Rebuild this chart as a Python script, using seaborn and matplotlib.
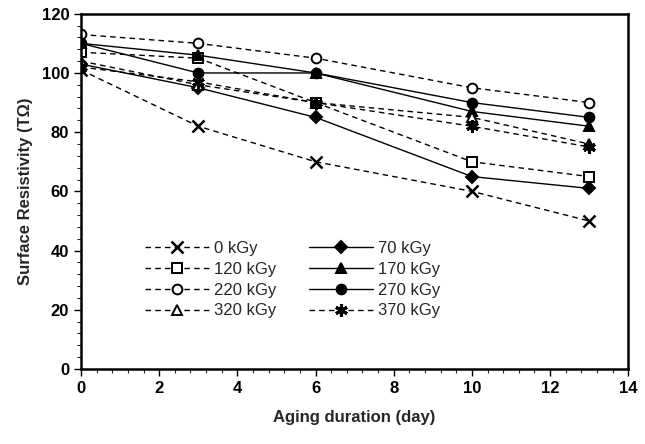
import pandas as pd
import seaborn as sns
import matplotlib.pyplot as plt
from matplotlib.ticker import MultipleLocator

days = [0, 3, 6, 10, 13]
doses = ['0 kGy', '70 kGy', '120 kGy', '170 kGy', '220 kGy', '270 kGy', '320 kGy', '370 kGy']
r_0 = [101, 82, 70, 60, 50]
r_70 = [103, 95, 85, 65, 61]
r_120 = [107, 105, 90, 70, 65]
r_170 = [110, 106, 100, 87, 82]
r_220 = [113, 110, 105, 95, 90]
r_270 = [110, 100, 100, 90, 85]
r_320 = [104, 96, 90, 85, 76]
r_370 = [102, 97, 90, 82, 75]
values = [r_0, r_70, r_120, r_170, r_220, r_270, r_320, r_370]

rows = []
for d, v in zip(doses, values):
    for t, r in zip(days, v):
        rows.append({'day': t, 'dose': d, 'R': r})
df = pd.DataFrame(rows)

# marker, filled, dashed
styles = {
    '0 kGy': ('x', True, True),
    '70 kGy': ('D', True, False),
    '120 kGy': ('s', False, True),
    '170 kGy': ('^', True, False),
    '220 kGy': ('o', False, True),
    '270 kGy': ('o', True, False),
    '320 kGy': ('^', False, True),
    '370 kGy': ((6, 2, 0), True, True),
}

sns.set_style('ticks')
plt.rcParams['font.family'] = ['Liberation Sans', 'DejaVu Sans']

fig = plt.figure(figsize=(6.45, 4.44), dpi=100)
ax = fig.add_axes([0.1256, 0.169, 0.8484, 0.8])

for d in doses:
    m, filled, dashed = styles[d]
    sub = df[df['dose'] == d]
    ms = 7
    mew = 1.4
    if m == 'D':
        ms = 6
    if m == 'x':
        ms, mew = 8, 1.8
    if m == (6, 2, 0):
        ms, mew = 9, 2.2
    sns.lineplot(data=sub, x='day', y='R', ax=ax, color='black', linewidth=1,
                 linestyle=(0, (4, 3)) if dashed else '-',
                 marker=m, markersize=ms, markeredgewidth=mew,
                 markerfacecolor='black' if filled else 'white',
                 markeredgecolor='black', label=d)

ax.set_xlim(0, 14)
ax.set_ylim(0, 120)
ax.xaxis.set_major_locator(MultipleLocator(2))
ax.xaxis.set_minor_locator(MultipleLocator(0.4))
ax.yaxis.set_major_locator(MultipleLocator(20))
ax.yaxis.set_minor_locator(MultipleLocator(4))
ax.tick_params(which='major', labelsize=12, length=5, width=1, direction='out', colors='black')
ax.tick_params(which='minor', length=3, width=0.8, direction='out')
for lab in ax.get_xticklabels() + ax.get_yticklabels():
    lab.set_fontweight('bold')
for s in ax.spines.values():
    s.set_linewidth(1.8)
    s.set_color('black')

ax.set_xlabel('Aging duration (day)', fontsize=12, fontweight='bold', labelpad=10)
ax.set_ylabel('Surface Resistivity (TΩ)', fontsize=12, fontweight='bold', labelpad=6)

h, l = ax.get_legend_handles_labels()
order = [0, 2, 4, 6, 1, 3, 5, 7]
ax.legend([h[i] for i in order], [l[i] for i in order], ncol=2, frameon=False,
          loc='lower left', bbox_to_anchor=(0.09, 0.1), fontsize=12,
          handlelength=3.8, columnspacing=2.0, labelspacing=0.35, handletextpad=0.3)

fig.savefig('out.png', dpi=100)
